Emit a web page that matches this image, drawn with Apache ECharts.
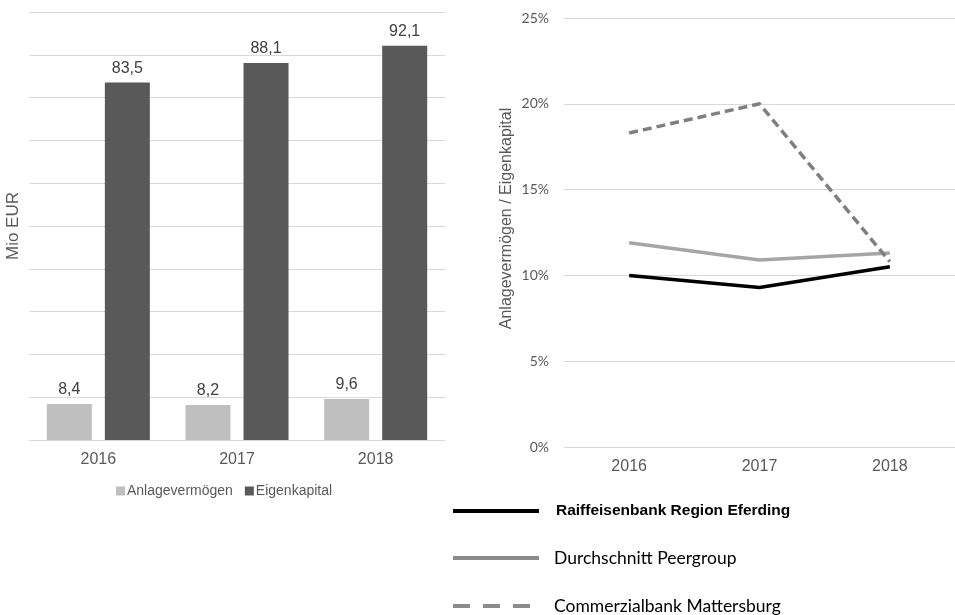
<!DOCTYPE html>
<html>
<head>
<meta charset="utf-8">
<script src="https://cdn.jsdelivr.net/npm/echarts@6/dist/echarts.min.js"></script>
<style>
  html, body { margin: 0; padding: 0; background: #fff; }
  #chart { width: 955px; height: 615px; }
</style>
</head>
<body>
<div id="chart"></div>
<script>
// data
var years = ['2016', '2017', '2018'];
var anlagevermoegen = [8.4, 8.2, 9.6];
var eigenkapital = [83.5, 88.1, 92.1];

var raiffeisen = [10.0, 9.3, 10.5];
var peergroup = [11.9, 10.9, 11.3];
var commerzial = [18.3, 20.0, 10.8];

var fmtComma = function (p) { return String(p.value.toFixed(1)).replace('.', ','); };

var myChart = echarts.init(document.getElementById('chart'));

var option = {
  animation: false,
  legend: [
    {
      // bar legend
      data: ['Anlagevermögen', 'Eigenkapital'],
      left: 116, top: 484, padding: 0,
      icon: 'rect', itemWidth: 9, itemHeight: 9, itemGap: 12,
      textStyle: { fontFamily: 'Liberation Sans', fontSize: 14, color: '#595959', padding: [0, 0, 0, -3] }
    },
    {
      // line legend
      data: [
        { name: 'Raiffeisenbank Region Eferding', textStyle: { fontFamily: 'Liberation Sans', fontWeight: 'bold', fontSize: 15.5, color: '#000', padding: [0, 0, 0, 12] } },
        { name: 'Durchschnitt Peergroup', lineStyle: { color: '#8c8c8c' } },
        { name: 'Commerzialbank Mattersburg', lineStyle: { color: '#8c8c8c', type: [17, 13] } }
      ],
      orient: 'vertical',
      left: 451, top: 503, height: 140, padding: 0,
      itemWidth: 86, itemHeight: 16, itemGap: 30,
      lineStyle: { width: 4 },
      itemStyle: { opacity: 0 },
      textStyle: { fontFamily: 'Lato', fontSize: 17.5, lineHeight: 16, color: '#000', padding: [0, 0, 0, 10] }
    }
  ],
  grid: [
    { left: 29, top: 12, width: 416, height: 428 },
    { left: 564, top: 18, width: 400, height: 429 }
  ],
  xAxis: [
    {
      gridIndex: 0, type: 'category', data: years,
      axisLine: { lineStyle: { color: '#d9d9d9' } },
      axisTick: { show: false },
      axisLabel: { fontFamily: 'Liberation Sans', fontSize: 16, color: '#595959', margin: 12 }
    },
    {
      gridIndex: 1, type: 'category', data: years,
      axisLine: { show: false },
      axisTick: { show: false },
      axisLabel: { fontFamily: 'Liberation Sans', fontSize: 16, color: '#595959', margin: 12 }
    }
  ],
  yAxis: [
    {
      gridIndex: 0, type: 'value', min: 0, max: 100, interval: 10,
      name: 'Mio EUR', nameLocation: 'middle', nameGap: 7,
      nameTextStyle: { fontFamily: 'Liberation Sans', fontSize: 17, color: '#595959' },
      axisLabel: { show: false },
      axisLine: { show: false }, axisTick: { show: false },
      splitLine: { lineStyle: { color: '#d9d9d9' } }
    },
    {
      gridIndex: 1, type: 'value', min: 0, max: 25, interval: 5,
      name: 'Anlagevermögen / Eigenkapital', nameLocation: 'middle', nameGap: 49,
      nameTextStyle: { fontFamily: 'Liberation Sans', fontSize: 16, color: '#595959', padding: [0, 0, 0, 28] },
      axisLabel: { fontFamily: 'Lato', fontSize: 14, color: '#595959', margin: 15, formatter: '{value}%' },
      axisLine: { show: false }, axisTick: { show: false },
      splitLine: { lineStyle: { color: '#d9d9d9' } }
    }
  ],
  series: [
    {
      name: 'Anlagevermögen', type: 'bar', xAxisIndex: 0, yAxisIndex: 0,
      data: anlagevermoegen, barWidth: 45, barGap: '29%',
      itemStyle: { color: '#bfbfbf' },
      label: { show: true, position: 'top', distance: 6, formatter: fmtComma, fontFamily: 'Liberation Sans', fontSize: 16, color: '#404040' }
    },
    {
      name: 'Eigenkapital', type: 'bar', xAxisIndex: 0, yAxisIndex: 0,
      data: eigenkapital, barWidth: 45, barGap: '29%',
      itemStyle: { color: '#595959' },
      label: { show: true, position: 'top', distance: 6, formatter: fmtComma, fontFamily: 'Liberation Sans', fontSize: 16, color: '#404040' }
    },
    {
      name: 'Raiffeisenbank Region Eferding', type: 'line', xAxisIndex: 1, yAxisIndex: 1,
      data: raiffeisen, symbol: 'circle', showSymbol: false,
      lineStyle: { color: '#000', width: 3.5 }, itemStyle: { color: '#000' }
    },
    {
      name: 'Durchschnitt Peergroup', type: 'line', xAxisIndex: 1, yAxisIndex: 1,
      data: peergroup, symbol: 'circle', showSymbol: false,
      lineStyle: { color: '#a5a5a5', width: 3.5 }, itemStyle: { color: '#a5a5a5' }
    },
    {
      name: 'Commerzialbank Mattersburg', type: 'line', xAxisIndex: 1, yAxisIndex: 1,
      data: commerzial, symbol: 'circle', showSymbol: false,
      lineStyle: { color: '#7f7f7f', width: 3.5, type: [9, 5] }, itemStyle: { color: '#7f7f7f' }
    }
  ]
};

myChart.setOption(option);
</script>
</body>
</html>
